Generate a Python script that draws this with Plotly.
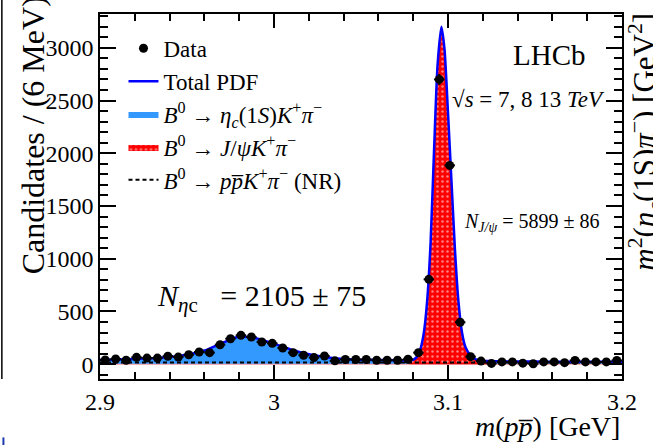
import numpy as np
import plotly.graph_objects as go

# ---------------- data ----------------
bin_low, bin_width, n_bins = 2.9, 0.006, 50
data_y = [40, 50, 38, 65, 58, 58, 76, 68, 90, 116,
          110, 185, 242, 274, 258, 211, 198, 154, 110, 85,
          63, 78, 32, 45, 45, 45, 38, 38, 38, 47,
          110, 805, 2700, 1885, 398, 72, 30, 8, 22, 22,
          10, 5, 22, 22, 15, 36, 22, 22, 22, 36]
data_err = [6, 7, 6, 8, 8, 8, 9, 8, 9, 11,
            10, 14, 16, 17, 16, 15, 14, 12, 10, 9,
            8, 9, 6, 7, 7, 7, 6, 6, 6, 7,
            10, 28, 52, 43, 20, 8, 5, 3, 5, 5,
            3, 2, 5, 5, 4, 6, 5, 5, 5, 6]

# total PDF curve
pdf_x = [2.90, 2.91, 2.92, 2.93, 2.94, 2.95, 2.96, 2.97, 2.98, 2.99, 3.00, 3.01,
         3.02, 3.03, 3.04, 3.05, 3.06, 3.07,
         3.078, 3.080, 3.082, 3.084, 3.086, 3.088, 3.090, 3.092, 3.094, 3.0962,
         3.098, 3.100, 3.102, 3.104, 3.106, 3.108, 3.110, 3.113, 3.116, 3.120, 3.124,
         3.13, 3.14, 3.15, 3.16, 3.17, 3.18, 3.19, 3.20]
pdf_y = [42, 45, 50, 57, 68, 90, 130, 200, 262, 245, 195, 138,
         94, 66, 50, 43, 40, 38,
         37, 42, 67, 136, 286, 596, 1155, 2035, 2835, 3200,
         2985, 2385, 1735, 1085, 595, 305, 164, 83, 47, 34, 30,
         28, 26, 25, 24, 24, 23, 23, 23]

# eta_c component (stacked on NR)
etac_x = [2.90, 2.91, 2.92, 2.93, 2.94, 2.95, 2.96, 2.97, 2.98, 2.99, 3.00,
          3.01, 3.02, 3.03, 3.04, 3.05, 3.06, 3.07, 3.08, 3.09, 3.10,
          3.11, 3.12, 3.13, 3.14, 3.15, 3.16, 3.17, 3.18, 3.19, 3.20]
etac_y = [42, 45, 50, 57, 68, 90, 130, 200, 262, 245, 195,
          138, 94, 66, 50, 43, 38, 33, 29, 25, 22,
          20, 18, 17, 16, 16, 15, 15, 15, 15, 15]

# J/psi component (peak region)
jpsi_x = pdf_x[18:39]
jpsi_y = pdf_y[18:39]

# non-resonant component
nr_x = [2.90, 3.20]
nr_y = [17, 17]

legend_names = ["Data", "Total PDF",
                "<i>B</i><sup>0</sup> → <i>η</i><sub><i>c</i></sub>(1<i>S</i>)<i>K</i><sup>+</sup><i>π</i><sup>−</sup>",
                "<i>B</i><sup>0</sup> → <i>J</i>/<i>ψK</i><sup>+</sup><i>π</i><sup>−</sup>",
                "<i>B</i><sup>0</sup> → <i>pp̅K</i><sup>+</sup><i>π</i><sup>−</sup> (NR)"]

x_ticks = [2.9, 3.0, 3.1, 3.2]
x_ticktext = ["2.9", "3", "3.1", "3.2"]
y_ticks = [0, 500, 1000, 1500, 2000, 2500, 3000]

bin_centers = bin_low + bin_width * (np.arange(n_bins) + 0.5)

FONT = "Liberation Serif, Times New Roman, serif"

fig = go.Figure()

# eta_c filled component
fig.add_trace(go.Scatter(x=etac_x, y=etac_y, mode="lines", fill="tozeroy",
                         line=dict(color="#3399FF", width=0, shape="spline"),
                         fillcolor="#3399FF", name=legend_names[2], legendrank=3))
# zero line of J/psi component
fig.add_trace(go.Scatter(x=[2.9, 3.2], y=[0, 0], mode="lines",
                         line=dict(color="#FF9999", width=1), showlegend=False,
                         hoverinfo="skip"))
# J/psi filled component
fig.add_trace(go.Scatter(x=jpsi_x, y=jpsi_y, mode="lines", fill="tozeroy",
                         line=dict(color="red", width=0, shape="spline"),
                         fillcolor="red",
                         fillpattern=dict(shape=".", bgcolor="#FF0000", fgcolor="white",
                                          size=5, solidity=0.2),
                         name=legend_names[3], legendrank=4))
# NR dashed
fig.add_trace(go.Scatter(x=nr_x, y=nr_y, mode="lines",
                         line=dict(color="black", width=2, dash="4px,3px"),
                         name=legend_names[4], legendrank=5))
# total PDF
fig.add_trace(go.Scatter(x=pdf_x, y=pdf_y, mode="lines",
                         line=dict(color="#0000FF", width=2.5, shape="spline", smoothing=0.6),
                         name=legend_names[1], legendrank=2))
# data
fig.add_trace(go.Scatter(x=bin_centers, y=data_y, mode="markers",
                         marker=dict(color="black", size=9, symbol="circle"),
                         error_y=dict(type="data", array=data_err, color="black",
                                      thickness=2, width=0),
                         error_x=dict(type="constant", value=bin_width / 2, color="black",
                                      thickness=2, width=0),
                         name=legend_names[0], legendrank=1))

axis_common = dict(showline=True, linecolor="black", linewidth=1.5, mirror="allticks",
                   ticks="inside", tickcolor="black", tickwidth=1.5,
                   showgrid=False, zeroline=False,
                   tickfont=dict(family=FONT, size=24, color="black"))

fig.update_xaxes(range=[2.9, 3.2], tickvals=x_ticks, ticktext=x_ticktext, ticklen=14,
                 minor=dict(dtick=0.02, ticks="inside", ticklen=7, tickcolor="black",
                            tickwidth=1.5, showgrid=False),
                 **axis_common)
fig.update_yaxes(range=[-140, 3320], tickvals=y_ticks, ticklen=16,
                 minor=dict(dtick=100, ticks="inside", ticklen=8, tickcolor="black",
                            tickwidth=1.5, showgrid=False),
                 **axis_common)

annotations = [
    dict(text="LHCb", x=0.862, y=0.888, font=dict(size=29)),
    dict(text="√<i>s</i> = 7, 8 13 <i>TeV</i>", x=0.82, y=0.766, font=dict(size=23)),
    dict(text="<i>N</i><sub><i>J/ψ</i></sub> = 5899 ± 86", x=0.826, y=0.428, font=dict(size=20)),
    dict(text="<i>N</i><sub><i>η</i>c</sub>   = 2105 ± 75", x=0.31, y=0.223, font=dict(size=30)),
    dict(text="<i>m</i>(<i>pp̅</i>) [GeV]", x=1.0, xanchor="right", y=-0.131, font=dict(size=28)),
    dict(text="Candidates / (6 MeV)", x=-0.128, y=0.668, textangle=-90, font=dict(size=32)),
    dict(text="<i>m</i><sup>2</sup>(<i>η</i><sub><i>c</i></sub>(1S)<i>π</i><sup>−</sup>) [GeV<sup>2</sup>]",
         x=1.044, y=0.65, textangle=-90, font=dict(size=31)),
]
for a in annotations:
    a.setdefault("xanchor", "center")
    a.update(xref="paper", yref="paper", showarrow=False, yanchor="middle")
    a["font"].update(family=FONT, color="black")
fig.update_layout(annotations=annotations)

fig.update_layout(
    width=653, height=445,
    margin=dict(l=100, r=31, t=12, b=66, pad=0),
    paper_bgcolor="white", plot_bgcolor="white",
    font=dict(family=FONT, color="black"),
    legend=dict(x=0.045, y=0.965, xanchor="left", yanchor="top",
                bgcolor="rgba(0,0,0,0)", font=dict(family=FONT, size=23, color="black"),
                itemwidth=30, tracegroupgap=0),
    shapes=[
        dict(type="line", xref="paper", yref="paper", x0=-0.188, x1=-0.188, y0=0.0, y1=1.04,
             line=dict(color="black", width=1.5)),
        dict(type="line", xref="paper", yref="paper", x0=-0.185, x1=-0.185, y0=-0.16, y1=-0.22,
             line=dict(color="#1F3BB0", width=2)),
    ],
)

fig.write_html("out.html")
